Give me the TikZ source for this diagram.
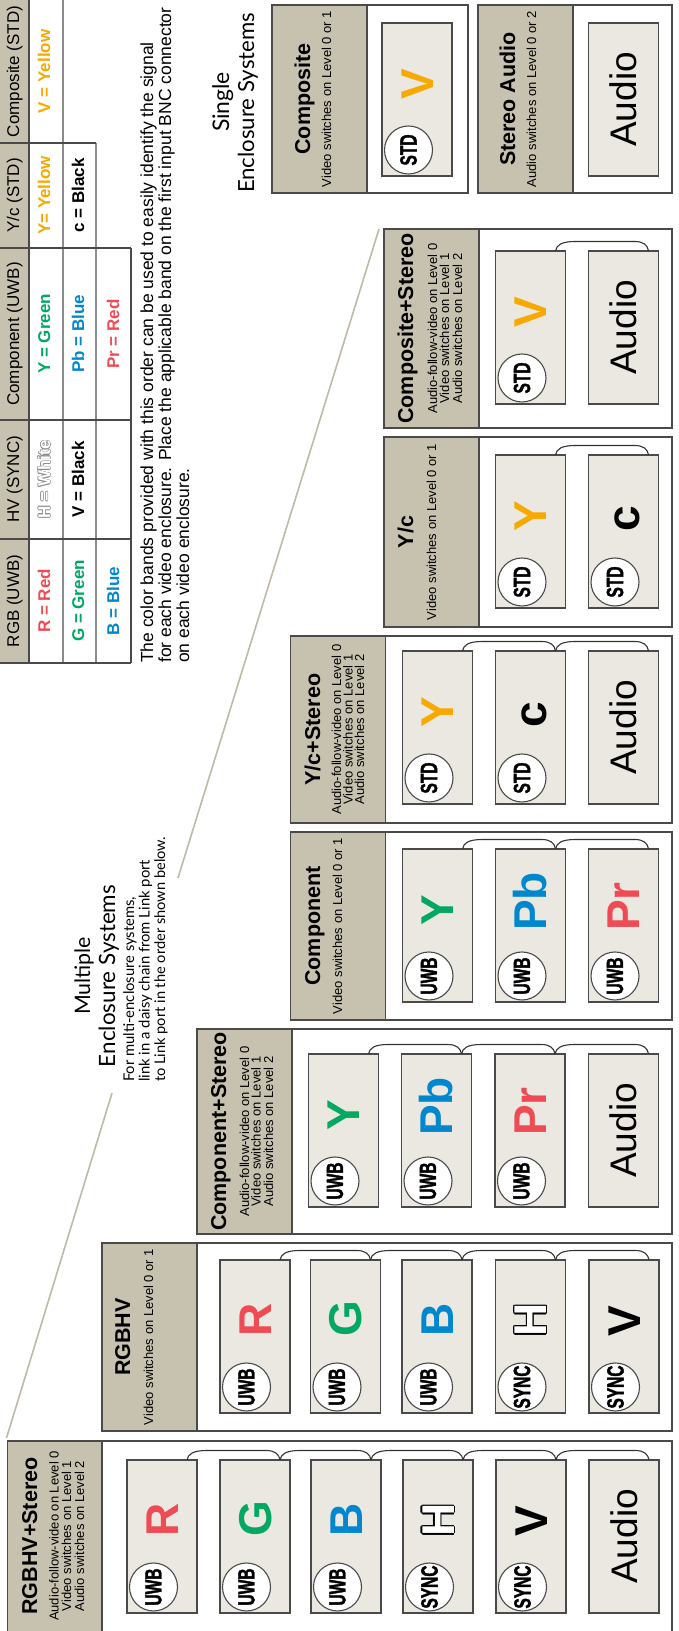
\documentclass[tikz,border=0pt]{standalone}
\usepackage{fontspec}
\setmainfont{Liberation Sans}
\newfontfamily\condf[FakeStretch=0.66, FakeBold=1.6]{Liberation Sans Bold}
\newfontfamily\latof{Lato}
\usepackage{graphicx}
\newcommand{\fs}[1]{\fontsize{#1}{#1}\selectfont}
\newcommand{\fitw}[2]{\resizebox{#1pt}{!}{#2}}
\newcommand{\outl}[4]{%
  \leavevmode
  \rlap{\hspace*{#2}\textcolor{#1}{#4}}%
  \rlap{\hspace*{-#2}\textcolor{#1}{#4}}%
  \rlap{\raisebox{#2}{\textcolor{#1}{#4}}}%
  \rlap{\raisebox{-#2}{\textcolor{#1}{#4}}}%
  \rlap{\hspace*{#3}\raisebox{#3}{\textcolor{#1}{#4}}}%
  \rlap{\hspace*{#3}\raisebox{-#3}{\textcolor{#1}{#4}}}%
  \rlap{\hspace*{-#3}\raisebox{#3}{\textcolor{#1}{#4}}}%
  \rlap{\hspace*{-#3}\raisebox{-#3}{\textcolor{#1}{#4}}}%
  \textcolor{white}{#4}}
\definecolor{tanc}{HTML}{C7C2AF}
\definecolor{portc}{HTML}{EAE8E1}
\definecolor{edgec}{HTML}{4A4A4A}
\definecolor{tblg}{HTML}{8C8C8C}
\definecolor{cred}{HTML}{EE4B55}
\definecolor{cgreen}{HTML}{00A862}
\definecolor{cblue}{HTML}{0087CD}
\definecolor{cyellow}{HTML}{F7A900}
\definecolor{diagc}{HTML}{BFBAA6}
\tikzset{
 boxs/.style={draw=edgec, line width=1.2, fill=white},
 hdrs/.style={draw=edgec, line width=1.2, fill=tanc},
 ports/.style={rectangle, draw=edgec, line width=1.1, fill=portc, minimum width=153, minimum height=70, inner sep=0, outer sep=0, anchor=north west},
 badges/.style={circle, draw=edgec, line width=1.1, fill=white, minimum size=48, inner sep=0, font=\condf\fs{23.5}},
 lets/.style={inner sep=0, anchor=base west, font=\bfseries\fs{46}},
 auds/.style={inner sep=0, anchor=base, font=\fs{37}},
 ttls/.style={inner sep=0, anchor=base, font=\bfseries\fs{21.5}},
 subs/.style={inner sep=0, anchor=base, font=\fs{13}},
 links/.style={draw=black!80, line width=1.1},
 diags/.style={draw=diagc, line width=1.6},
 tbl/.style={draw=edgec, line width=1.2},
 tblgl/.style={draw=tblg, line width=1.5},
 thd/.style={inner sep=0, anchor=base, font=\fs{17}},
 tdt/.style={inner sep=0, anchor=base, font=\bfseries\fs{17}},
 para/.style={inner sep=0, anchor=base west, font=\fs{17.5}},
 bigl/.style={inner sep=0, anchor=base, font=\latof\fs{20}},
 smal/.style={inner sep=0, anchor=base west, font=\latof\fs{15}},
}
% name, X0, Y0, badge, letter x-offset, colour, letter
\newcommand{\vport}[7]{%
 \node[ports] (#1) at (#2,-#3) {};
 \node[badges] (#1-b) at (#2+26,-#3-26.5) {#4};
 \node[lets, text=#6] (#1-l) at (#2+#5,-#3-51) {#7};
}
\newcommand{\aport}[3]{%
 \node[ports] (#1) at (#2,-#3) {};
 \node[auds] (#1-l) at (#2+76.5,-#3-48) {Audio};
}
% right X, Y0 of first rect, Y0 of second rect
\newcommand{\plink}[3]{%
 \draw[links] (#1,-#2-60) .. controls (#1+6,-#2-61) and (#1+9.5,-#2-66) .. (#1+9.5,-#2-80) -- (#1+9.5,-#3-46) .. controls (#1+9.5,-#3-55) and (#1+6,-#3-59) .. (#1,-#3-60);
}
\begin{document}
\begin{tikzpicture}[x=1pt,y=1pt]
\useasboundingbox (0,0) rectangle (679,1631);
\clip (0,0) rectangle (679,1631);
\fill[white] (0,0) rectangle (679,1631);
\begin{scope}[rotate=90, transform shape]
% ---------------- table
\fill[tanc] (968,0) rectangle (1640,-29);
\draw[tbl] (968,-29) -- (1640,-29);
\draw[tblgl] (968,-63) -- (1640,-63);
\draw[tblgl] (968,-96) -- (1488,-96);
\draw[tbl] (968,-131) -- (1383,-131);
\draw[tbl] (968,0) -- (968,-131);
\draw[tbl] (1092,0) -- (1092,-131);
\draw[tbl] (1211,0) -- (1211,-131);
\draw[tbl] (1383,0) -- (1383,-131);
\draw[tbl] (1488,0) -- (1488,-96);
\node[thd] (h1) at (1030,-19) {RGB (UWB)};
\node[thd] (h2) at (1151.5,-19) {HV (SYNC)};
\node[thd] (h3) at (1297,-19) {Component (UWB)};
\node[thd] (h4) at (1435.5,-19) {Y/c (STD)};
\node[thd] (h5) at (1559.5,-19) {Composite (STD)};
\node[tdt, text=cred] (d11) at (1030,-50) {R = Red};
\node[tdt] (d21) at (1151.5,-50) {\outl{tblg}{0.6pt}{0.45pt}{H = White}};
\node[tdt, text=cgreen] (d31) at (1297,-50) {Y = Green};
\node[tdt, text=cyellow] (d41) at (1435.5,-50) {Y= Yellow};
\node[tdt, text=cyellow] (d51) at (1559.5,-50) {V = Yellow};
\node[tdt, text=cgreen] (d12) at (1030,-84) {G = Green};
\node[tdt] (d22) at (1151.5,-84) {V = Black};
\node[tdt, text=cblue] (d32) at (1297,-84) {Pb = Blue};
\node[tdt] (d42) at (1435.5,-84) {c = Black};
\node[tdt, text=cblue] (d13) at (1030,-119) {B = Blue};
\node[tdt, text=cred] (d33) at (1297,-119) {Pr = Red};
% ---------------- paragraph
\node[para] (p1) at (968,-153) {The color bands provided with this order can be used to easily identify the signal};
\node[para] (p2) at (968,-171) {for each video enclosure. Place the applicable band on the first input BNC connector};
\node[para] (p3) at (968,-189) {on each video enclosure.};
% ---------------- section titles
\node[bigl] (sg1) at (1529,-229) {\fitw{60}{Single}};
\node[bigl] (sg2) at (1528,-254) {\fitw{180}{Enclosure Systems}};
\node[bigl] (mu1) at (655,-90) {\fitw{78}{Multiple}};
\node[bigl] (mu2) at (655,-115) {\fitw{182}{Enclosure Systems}};
\node[smal] (mt1) at (549,-134) {\fitw{185}{For multi-enclosure systems,}};
\node[smal] (mt2) at (549,-149.5) {\fitw{222}{link in a daisy chain from Link port}};
\node[smal] (mt3) at (549,-165) {\fitw{245}{to Link port in the order shown below.}};
% ---------------- diagonals
\draw[diags] (1402,-379) -- (753,-178);
\draw[diags] (538,-112) -- (193,-6.5);
% ---------------- Composite
\draw[boxs] (1438,-272) rectangle (1626,-468);
\draw[hdrs] (1438,-272) rectangle (1626,-367);
\node[ttls] (t-cp) at (1532,-310) {Composite};
\node[subs] (s-cp) at (1532,-331) {Video switches on Level 0 or 1};
\vport{cp1}{1455}{382}{STD}{76}{cyellow}{V}
% ---------------- Stereo Audio
\draw[boxs] (1438,-478) rectangle (1626,-672);
\draw[hdrs] (1438,-478) rectangle (1626,-573);
\node[ttls] (t-sa) at (1532,-515) {Stereo Audio};
\node[subs] (s-sa) at (1532,-536) {Audio switches on Level 0 or 2};
\aport{sa1}{1455}{588.5}
% ---------------- Composite+Stereo
\draw[boxs] (1203,-384) rectangle (1402,-672);
\draw[hdrs] (1203,-384) rectangle (1402,-479);
\node[ttls] (t-cs) at (1302.5,-413) {Composite+Stereo};
\node[subs] (s-cs1) at (1302.5,-437) {Audio-follow-video on Level 0};
\node[subs] (s-cs2) at (1302.5,-449) {Video switches on Level 1};
\node[subs] (s-cs3) at (1302.5,-462) {Audio switches on Level 2};
\vport{cs1}{1227}{495.5}{STD}{76}{cyellow}{V}
\aport{cs2}{1227}{588.5}
\plink{1380}{495.5}{588.5}
% ---------------- Y/c
\draw[boxs] (1004,-384) rectangle (1194,-672);
\draw[hdrs] (1004,-384) rectangle (1194,-479);
\node[ttls] (t-yc) at (1099,-413) {Y/c};
\node[subs] (s-yc) at (1099,-436) {Video switches on Level 0 or 1};
\vport{yc1}{1023}{495.5}{STD}{76}{cyellow}{Y}
\vport{yc2}{1023}{588.5}{STD}{76}{black}{c}
\plink{1176}{495.5}{588.5}
% ---------------- Y/c+Stereo
\draw[boxs] (808,-290.5) rectangle (995,-672);
\draw[hdrs] (808,-290.5) rectangle (995,-385.5);
\node[ttls] (t-ys) at (901.5,-320) {Y/c+Stereo};
\node[subs] (s-ys1) at (901.5,-341) {Audio-follow-video on Level 0};
\node[subs] (s-ys2) at (901.5,-352.5) {Video switches on Level 1};
\node[subs] (s-ys3) at (901.5,-364) {Audio switches on Level 2};
\vport{ys1}{827}{402.5}{STD}{76}{cyellow}{Y}
\vport{ys2}{827}{495.5}{STD}{76}{black}{c}
\aport{ys3}{827}{588.5}
\plink{980}{402.5}{495.5}
\plink{980}{495.5}{588.5}
% ---------------- Component
\draw[boxs] (611,-290.5) rectangle (799,-672);
\draw[hdrs] (611,-290.5) rectangle (799,-385.5);
\node[ttls] (t-co) at (705,-320) {Component};
\node[subs] (s-co) at (705,-342) {Video switches on Level 0 or 1};
\vport{co1}{629}{402.5}{UWB}{76}{cgreen}{Y}
\vport{co2}{629}{495.5}{UWB}{71}{cblue}{Pb}
\vport{co3}{629}{588.5}{UWB}{71}{cred}{Pr}
\plink{782}{402.5}{495.5}
\plink{782}{495.5}{588.5}
% ---------------- Component+Stereo
\draw[boxs] (397,-197) rectangle (602,-672);
\draw[hdrs] (397,-197) rectangle (602,-292);
\node[ttls] (t-cst) at (499.5,-226) {Component+Stereo};
\node[subs] (s-cst1) at (499.5,-249) {Audio-follow-video on Level 0};
\node[subs] (s-cst2) at (499.5,-260.5) {Video switches on Level 1};
\node[subs] (s-cst3) at (499.5,-273) {Audio switches on Level 2};
\vport{cst1}{424}{308.5}{UWB}{76}{cgreen}{Y}
\vport{cst2}{424}{401.5}{UWB}{71}{cblue}{Pb}
\vport{cst3}{424}{495}{UWB}{71}{cred}{Pr}
\aport{cst4}{424}{588.5}
\plink{577}{308.5}{401.5}
\plink{577}{401.5}{495}
\plink{577}{495}{588.5}
% ---------------- RGBHV
\draw[boxs] (200,-102) rectangle (388,-672);
\draw[hdrs] (200,-102) rectangle (388,-197);
\node[ttls] (t-rg) at (294,-130) {RGBHV};
\node[subs] (s-rg) at (294,-153) {Video switches on Level 0 or 1};
\vport{rg1}{218}{220}{UWB}{76}{cred}{R}
\vport{rg2}{218}{310.5}{UWB}{76}{cgreen}{G}
\vport{rg3}{218}{402}{UWB}{76}{cblue}{B}
\vport{rg4}{218}{495.5}{SYNC}{76}{black}{\outl{black}{1.3pt}{0.95pt}{H}}
\vport{rg5}{218}{589}{SYNC}{76}{black}{V}
\plink{371}{220}{310.5}
\plink{371}{310.5}{402}
\plink{371}{402}{495.5}
\plink{371}{495.5}{589}
% ---------------- RGBHV+Stereo
\draw[boxs] (-5,-7.5) rectangle (190,-672);
\draw[hdrs] (-5,-7.5) rectangle (190,-102);
\node[ttls] (t-rs) at (95,-37) {RGBHV+Stereo};
\node[subs] (s-rs1) at (95,-58.5) {Audio-follow-video on Level 0};
\node[subs] (s-rs2) at (95,-71) {Video switches on Level 1};
\node[subs] (s-rs3) at (95,-84) {Audio switches on Level 2};
\vport{rs1}{18}{127}{UWB}{76}{cred}{R}
\vport{rs2}{18}{220}{UWB}{76}{cgreen}{G}
\vport{rs3}{18}{311}{UWB}{76}{cblue}{B}
\vport{rs4}{18}{403}{SYNC}{76}{black}{\outl{black}{1.3pt}{0.95pt}{H}}
\vport{rs5}{18}{496}{SYNC}{76}{black}{V}
\aport{rs6}{18}{589}
\plink{171}{127}{220}
\plink{171}{220}{311}
\plink{171}{311}{403}
\plink{171}{403}{496}
\plink{171}{496}{589}
\end{scope}
\end{tikzpicture}
\end{document}
